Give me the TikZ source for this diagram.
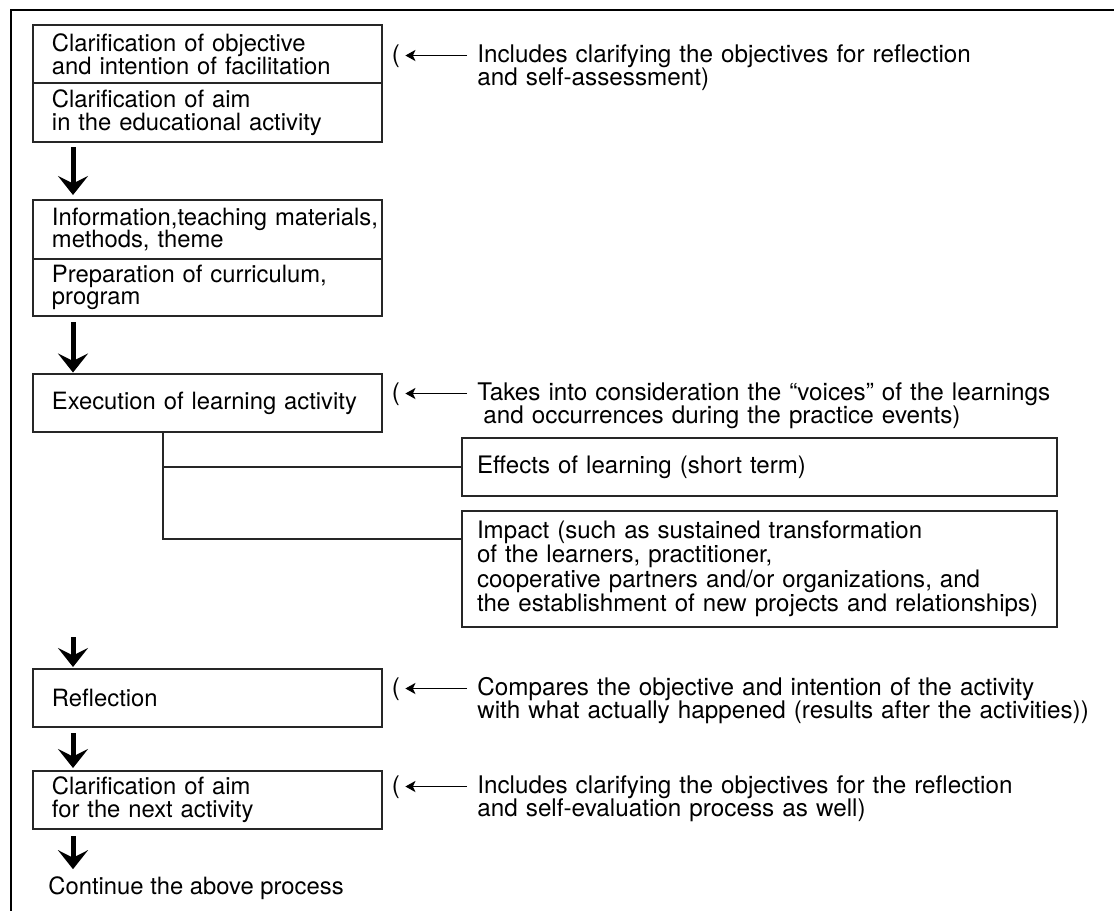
\documentclass[tikz,border=0pt]{standalone}
\usepackage{fontspec}
\setmainfont{TeX Gyre Heros}
\usetikzlibrary{arrows.meta}

\begin{document}
\begin{tikzpicture}[
  stepbox/.style={draw=black!85,line width=0.7pt,outer sep=0pt,minimum width=6.98cm,minimum height=1.16cm,text width=6.22cm,inner xsep=0.38cm,inner ysep=0.1cm,align=left,font=\fontsize{13.55}{12.9}\selectfont},
  outbox/.style={draw=black!85,line width=0.7pt,outer sep=0pt,minimum width=11.9cm,minimum height=1.16cm,text width=11.3cm,inner xsep=0.3cm,inner ysep=0.1cm,align=left,font=\fontsize{13.7}{13.9}\selectfont},
  notetext/.style={text width=12.5cm,align=left,inner sep=0pt,anchor=base west,font=\fontsize{13.8}{13.5}\selectfont},
  paren/.style={inner sep=0pt,anchor=base,font=\fontsize{13.8}{13.5}\selectfont},
  flowarrow/.style={line width=0.1cm,-{Stealth[length=0.38cm,width=0.6cm,inset=0.15cm]}},
  backarrow/.style={line width=1.1pt,-{Stealth[length=0.2cm,width=0.22cm,inset=0.05cm]},shorten <=0.2cm,shorten >=0.1cm},
  linkline/.style={draw=black!85,line width=0.7pt}
]
\useasboundingbox (0,0) rectangle (22.28,-18.2);
% frame
\draw[line width=1.1pt] (0.22,-18.3) -- (0.22,-0.2) -- (22.4,-0.2);

% left column
\node[stepbox] (aim1) at (4.15,-1.08) {Clarification of objective\\and intention of facilitation};
\node[stepbox,anchor=north,minimum height=1.18cm] (aim2) at (aim1.south) {Clarification of aim\\in the educational activity};
\node[stepbox,minimum height=1.18cm] (info) at (4.15,-4.59) {\mbox{Information,teaching materials,}\\methods, theme};
\node[stepbox,anchor=north,minimum height=1.14cm] (prep) at (info.south) {Preparation of curriculum,\\program};
\node[stepbox] (exec) at (4.15,-8.06) {Execution of learning activity};
\node[stepbox] (refl) at (4.15,-13.96) {Reflection};
\node[stepbox] (next) at (4.15,-16.0) {Clarification of aim\\for the next activity};
\node[inner sep=0pt,anchor=west,font=\fontsize{13.55}{12.9}\selectfont] (cont) at (0.96,-17.76) {Continue the above process};

% results
\node[outbox] (effect) at (15.19,-9.34) {Effects of learning (short term)};
\node[outbox,minimum height=2.32cm] (impact) at (15.19,-11.38) {Impact (such as sustained transformation\\of the learners, practitioner,\\cooperative partners and/or organizations, and\\\mbox{the establishment of new projects and relationships)}};

\coordinate (col) at (1.46,0);
\coordinate (fork) at (3.26,-10.78);
\draw[flowarrow,shorten <=0.1cm,shorten >=0.1cm] (aim2.south -| col) -- (info.north -| col);
\draw[flowarrow,shorten <=0.12cm,shorten >=0.03cm] (prep.south -| col) -- (exec.north -| col);
\draw[flowarrow,shorten <=0.2cm,shorten >=0.04cm] (impact.south -| col) -- (refl.north -| col);
\draw[flowarrow,shorten <=0.12cm,shorten >=0.06cm] (refl.south -| col) -- (next.north -| col);
\draw[flowarrow,shorten <=0.14cm,shorten >=0.14cm] (next.south -| col) -- (cont.north -| col);
\draw[linkline] (exec.south -| fork) -- (fork) -- (fork -| impact.west);
\draw[linkline] (effect.west -| fork) -- (effect.west);

% notes
\node[paren] (p1) at (7.92,-1.24) {(};
\node[notetext] (n1) at (9.54,-1.24) {Includes clarifying the objectives for reflection\\and self-assessment)};
\node[paren] (p2) at (7.92,-8.0) {(};
\node[notetext] (n2) at (9.54,-8.0) {Takes into consideration the “voices” of the learnings\\\hspace*{0.25em}and occurrences during the practice events)};
\node[paren] (p3) at (7.92,-13.9) {(};
\node[notetext] (n3) at (9.54,-13.9) {Compares the objective and intention of the activity\\with what actually happened (results after the activities))};
\node[paren] (p4) at (7.92,-15.86) {(};
\node[notetext] (n4) at (9.54,-15.86) {Includes clarifying the objectives for the reflection\\and self-evaluation process as well)};
\draw[backarrow] ([yshift=0.13cm]n1.base west) -- ([yshift=0.13cm]p1.base east);
\draw[backarrow] ([yshift=0.13cm]n2.base west) -- ([yshift=0.13cm]p2.base east);
\draw[backarrow] ([yshift=0.13cm]n3.base west) -- ([yshift=0.13cm]p3.base east);
\draw[backarrow] ([yshift=0.13cm]n4.base west) -- ([yshift=0.13cm]p4.base east);
\end{tikzpicture}
\end{document}
